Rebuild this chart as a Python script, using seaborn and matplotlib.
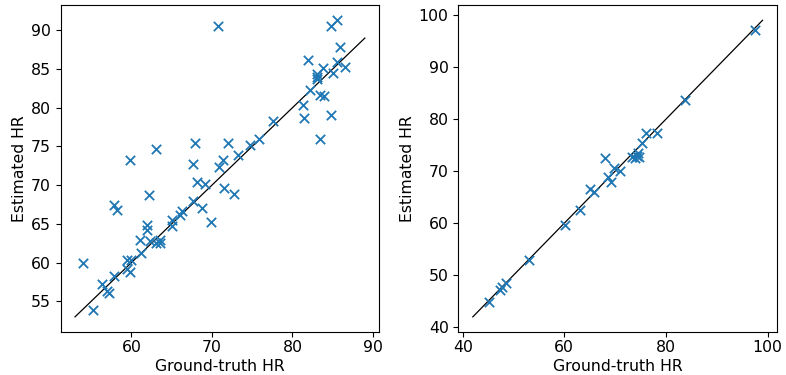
import matplotlib
matplotlib.use("Agg")
import matplotlib.pyplot as plt
import seaborn as sns
import pandas as pd

# Left panel data
left_gt = [70.7, 84.8, 85.5, 85.9, 81.9, 85.5, 86.5, 83.8, 85.0, 83.0, 83.1, 83.0,
           82.2, 83.4, 83.9, 81.3, 81.5, 84.8, 83.4, 77.6, 75.8, 74.7, 73.3, 72.0,
           71.4, 70.9, 71.5, 72.7, 67.95, 63.1, 59.8, 67.6, 68.1, 69.2, 62.2, 57.9,
           58.2, 67.6, 68.8, 69.9, 66.3, 66.0, 65.0, 65.0, 62.0, 62.0, 61.1, 62.3,
           63.0, 63.5, 63.6, 61.2, 59.4, 59.9, 59.4, 59.8, 54.0, 57.9, 56.3, 57.0,
           57.2, 55.2]
left_est = [90.6, 90.6, 91.3, 87.9, 86.2, 85.9, 85.3, 85.1, 84.5, 84.3, 84.0, 83.7,
            82.3, 81.7, 81.5, 80.3, 78.7, 79.1, 76.0, 78.3, 76.0, 75.2, 73.9, 75.5,
            73.2, 72.3, 69.6, 68.9, 75.4, 74.7, 73.3, 72.8, 70.4, 70.1, 68.7, 67.4,
            66.8, 68.0, 67.1, 65.3, 66.7, 66.1, 65.5, 64.7, 64.9, 64.2, 62.9, 62.8,
            62.6, 62.9, 62.6, 61.2, 60.4, 60.3, 59.2, 58.8, 60.0, 58.3, 57.2, 56.4,
            56.1, 53.9]
left_line = [53, 89]

# Right panel data
right_gt = [45.2, 47.4, 47.8, 48.5, 53.0, 60.2, 63.1, 65.1, 65.9, 68.6, 69.2, 69.7,
            71.0, 68.0, 73.3, 73.9, 74.3, 74.7, 74.5, 75.2, 76.0, 78.2, 83.7, 97.6]
right_est = [44.8, 47.1, 47.7, 48.5, 52.9, 59.6, 62.6, 66.6, 65.9, 68.9, 68.0, 70.6,
             70.1, 72.5, 72.8, 72.6, 73.0, 72.7, 73.5, 75.4, 77.3, 77.4, 83.6, 97.2]
right_line = [42, 99]

FS = 11.3
plt.rcParams['font.family'] = ['DejaVu Sans']
plt.rcParams['font.size'] = FS

fig = plt.figure(figsize=(7.86, 3.75), dpi=100)
ax1 = fig.add_axes([0.077, 0.1155, 0.4056, 0.870])
ax2 = fig.add_axes([0.5831, 0.1155, 0.4055, 0.870])

for ax, gt, est, line in [(ax1, left_gt, left_est, left_line),
                          (ax2, right_gt, right_est, right_line)]:
    df = pd.DataFrame({"gt": gt, "est": est})
    sns.scatterplot(data=df, x="gt", y="est", marker="x", color="#1f77b4",
                    s=45, linewidth=1.3, ax=ax, zorder=3)
    sns.lineplot(x=line, y=line, color="black", linewidth=0.9, ax=ax, zorder=2)
    ax.set_xlabel("Ground-truth HR", fontsize=FS, labelpad=2.5)
    ax.set_ylabel("Estimated HR", fontsize=FS, labelpad=2.5)
    ax.tick_params(axis="x", labelsize=FS, pad=2.8)
    ax.tick_params(axis="y", labelsize=FS)

ax1.set_xticks([60, 70, 80, 90])
ax1.set_yticks([55, 60, 65, 70, 75, 80, 85, 90])
ax2.set_xticks([40, 60, 80, 100])
ax2.set_yticks([40, 50, 60, 70, 80, 90, 100])

fig.savefig("out.png", dpi=100)
